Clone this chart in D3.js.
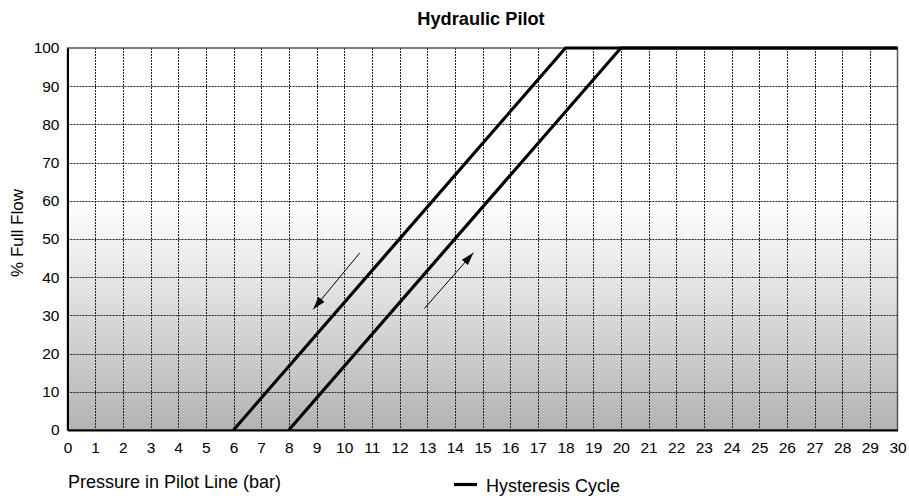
<!DOCTYPE html>
<html>
<head>
<meta charset="utf-8">
<script src="https://cdn.jsdelivr.net/npm/d3@7"></script>
<style>
  html, body { margin: 0; padding: 0; background: #fff; }
  svg { display: block; font-family: Arial, "Liberation Sans", sans-serif; }
</style>
</head>
<body>
<svg id="chart" width="909" height="498"></svg>
<script>
// Pilot pressure (bar) vs. valve opening (% of full flow)
const xTicks = d3.range(0, 31, 1);
const yTicks = d3.range(0, 101, 10);

// Falling branch (pressure decreasing) and rising branch (pressure increasing)
const fallingPressure = [6, 18, 30];
const fallingFlow     = [0, 100, 100];
const risingPressure  = [8, 20, 30];
const risingFlow      = [0, 100, 100];

// Direction arrows: [fromPressure, fromFlow, toPressure, toFlow]
const arrowFalling = [10.57, 46.4, 8.88, 31.6];
const arrowRising  = [12.9, 31.8, 14.67, 46.4];

const chartTitle  = "Hydraulic Pilot";
const xAxisTitle  = "Pressure in Pilot Line (bar)";
const yAxisTitle  = "% Full Flow";
const legendLabel = "Hysteresis Cycle";

const svg = d3.select("#chart");
const m = { left: 67.5, right: 897.5, top: 48, bottom: 430 };

const x = d3.scaleLinear().domain([0, 30]).range([m.left, m.right]);
const y = d3.scaleLinear().domain([0, 100]).range([m.bottom, m.top]);

// Background gradient: white in the upper half, fading to grey at the base
const defs = svg.append("defs");
const grad = defs.append("linearGradient")
  .attr("id", "bg").attr("x1", 0).attr("y1", 0).attr("x2", 0).attr("y2", 1);
grad.append("stop").attr("offset", "0").attr("stop-color", "#ffffff");
grad.append("stop").attr("offset", "0.4").attr("stop-color", "#ffffff");
grad.append("stop").attr("offset", "1").attr("stop-color", "#b3b3b3");

const marker = defs.append("marker")
  .attr("id", "head").attr("viewBox", "0 0 13 8")
  .attr("refX", 13).attr("refY", 4)
  .attr("markerWidth", 13).attr("markerHeight", 8)
  .attr("markerUnits", "userSpaceOnUse")
  .attr("orient", "auto");
marker.append("path").attr("d", "M0,0 L13,4 L0,8 Z").attr("fill", "#000");

svg.append("rect")
  .attr("x", x(0)).attr("y", y(100))
  .attr("width", x(30) - x(0)).attr("height", y(0) - y(100))
  .attr("fill", "url(#bg)");

// Dotted grid
const grid = svg.append("g")
  .attr("stroke", "#222").attr("stroke-width", 1).attr("stroke-dasharray", "2,1");
grid.selectAll("line.v").data(xTicks.filter(d => d > 0 && d < 30)).join("line")
  .attr("x1", d => Math.round(x(d)) + 0.5).attr("x2", d => Math.round(x(d)) + 0.5)
  .attr("y1", y(100)).attr("y2", y(0));
grid.selectAll("line.h").data(yTicks.filter(d => d > 0 && d < 100)).join("line")
  .attr("y1", d => Math.round(y(d)) + 0.5).attr("y2", d => Math.round(y(d)) + 0.5)
  .attr("x1", x(0)).attr("x2", x(30));

// Frame: grey top/right, black axes left/bottom
svg.append("rect")
  .attr("x", x(0)).attr("y", y(100))
  .attr("width", x(30) - x(0)).attr("height", y(0) - y(100))
  .attr("fill", "none").attr("stroke", "#555").attr("stroke-width", 1.5);

// Axes with labels only (no tick marks)
const xAxis = d3.axisBottom(x).tickValues(xTicks).tickSize(0).tickPadding(12).tickFormat(d3.format("d"));
const yAxis = d3.axisLeft(y).tickValues(yTicks).tickSize(0).tickPadding(8).tickFormat(d3.format("d"));

const gx = svg.append("g").attr("transform", `translate(0,${y(0)})`).call(xAxis);
const gy = svg.append("g").attr("transform", `translate(${x(0)},0)`).call(yAxis);
[gx, gy].forEach(g => {
  g.select(".domain").attr("stroke", "#000").attr("stroke-width", 2);
  g.selectAll("text").attr("font-size", 15.5).attr("fill", "#000")
    .attr("font-family", "Arial, 'Liberation Sans', sans-serif");
});

// Hysteresis branches
const line = d3.line().x(d => x(d[0])).y(d => y(d[1]));
const branches = [
  d3.zip(fallingPressure, fallingFlow),
  d3.zip(risingPressure, risingFlow)
];
svg.append("g").selectAll("path").data(branches).join("path")
  .attr("d", line)
  .attr("fill", "none").attr("stroke", "#000").attr("stroke-width", 3.2)
  .attr("stroke-linejoin", "miter");

// Direction arrows
svg.append("g").selectAll("line").data([arrowFalling, arrowRising]).join("line")
  .attr("x1", d => x(d[0])).attr("y1", d => y(d[1]))
  .attr("x2", d => x(d[2])).attr("y2", d => y(d[3]))
  .attr("stroke", "#000").attr("stroke-width", 1)
  .attr("marker-end", "url(#head)");

// Titles
svg.append("text").attr("x", 481).attr("y", 25).attr("text-anchor", "middle")
  .attr("font-size", 18.2).attr("font-weight", "bold").text(chartTitle);

svg.append("text").attr("x", 68).attr("y", 487.5)
  .attr("font-size", 18).text(xAxisTitle);

svg.append("text")
  .attr("transform", `translate(22.5,233) rotate(-90)`)
  .attr("text-anchor", "middle").attr("font-size", 17).text(yAxisTitle);

// Legend
const lg = svg.append("g");
lg.append("line").attr("x1", 454).attr("x2", 477).attr("y1", 484.5).attr("y2", 484.5)
  .attr("stroke", "#000").attr("stroke-width", 3.2);
lg.append("text").attr("x", 486).attr("y", 491.5).attr("font-size", 18).text(legendLabel);
</script>
</body>
</html>
